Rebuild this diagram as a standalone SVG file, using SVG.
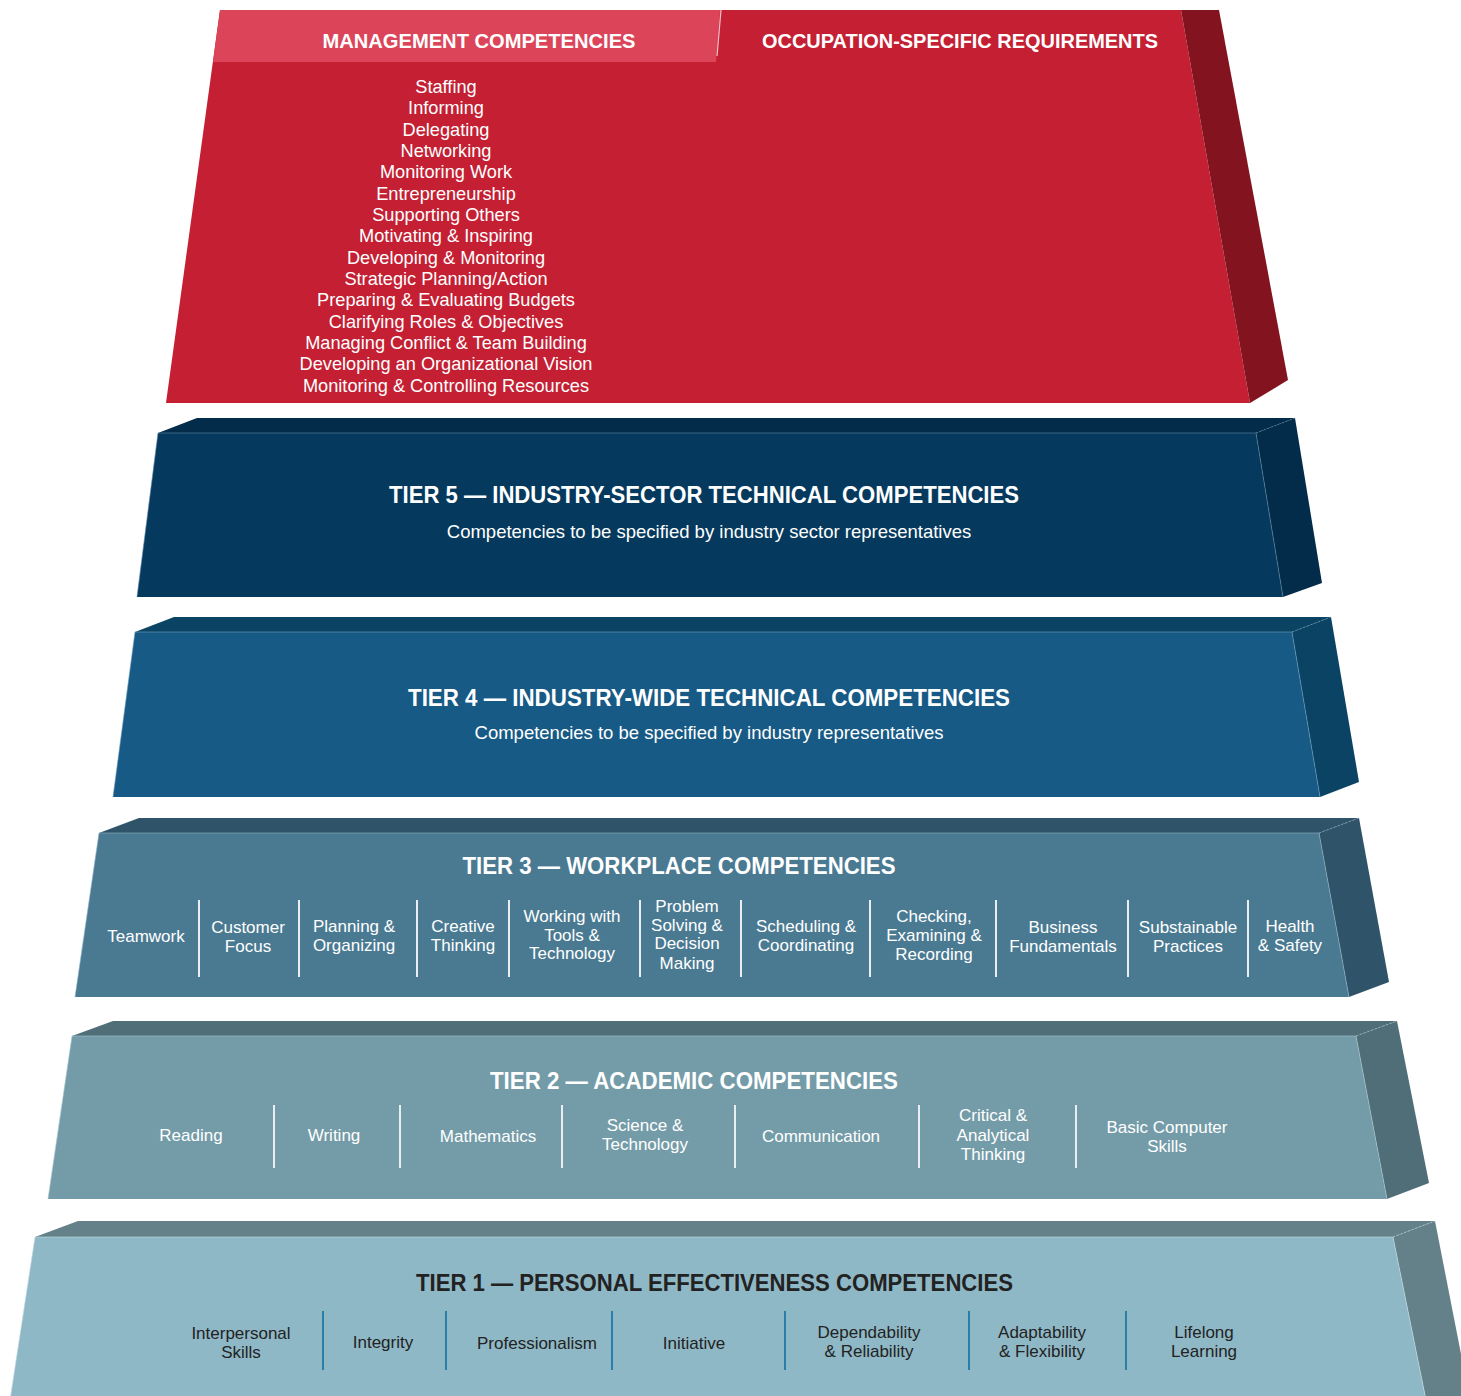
<svg xmlns="http://www.w3.org/2000/svg" width="1461" height="1396" viewBox="0 0 1461 1396">
<style>
.t{font-family:"Liberation Sans",Arial,sans-serif;font-weight:bold;font-size:24px;fill:#fff;text-anchor:middle}
.h{font-family:"Liberation Sans",Arial,sans-serif;font-weight:bold;font-size:21px;fill:#fff;text-anchor:middle}
.s{font-family:"Liberation Sans",Arial,sans-serif;font-size:18.5px;fill:#fff;text-anchor:middle}
.i{font-family:"Liberation Sans",Arial,sans-serif;font-size:17px;fill:#fff;text-anchor:middle}
.m{font-family:"Liberation Sans",Arial,sans-serif;font-size:18.2px;fill:#fff;text-anchor:middle}
.d{fill:#222}
.sep{stroke:#e8eef2;stroke-width:2}
.sep1{stroke:#2a7fa8;stroke-width:2}
.edge{fill:none;stroke-width:1;stroke-opacity:0.6}
</style>
<rect width="1461" height="1396" fill="#fff"/>

<g id="top-block">
<polygon points="220,10 1181,10 1250,403 166,403" fill="#c41f33"/>
<polygon points="1181,10 1219,10 1288,380 1250,403" fill="#83141f"/>
<polygon points="220,10 720,10 716,62 213,62" fill="#dc4459"/>
<line x1="721" y1="10" x2="717" y2="56" stroke="#f3c3ca" stroke-width="1.2"/>
<text class="h" x="479" y="48" textLength="313" lengthAdjust="spacingAndGlyphs">MANAGEMENT COMPETENCIES</text>
<text class="h" x="960" y="48" textLength="396" lengthAdjust="spacingAndGlyphs">OCCUPATION-SPECIFIC REQUIREMENTS</text>
<text class="m" x="446" y="92.5">Staffing</text>
<text class="m" x="446" y="114">Informing</text>
<text class="m" x="446" y="135.5">Delegating</text>
<text class="m" x="446" y="157">Networking</text>
<text class="m" x="446" y="178">Monitoring Work</text>
<text class="m" x="446" y="199.5">Entrepreneurship</text>
<text class="m" x="446" y="221">Supporting Others</text>
<text class="m" x="446" y="242">Motivating &amp; Inspiring</text>
<text class="m" x="446" y="263.5">Developing &amp; Monitoring</text>
<text class="m" x="446" y="285">Strategic Planning/Action</text>
<text class="m" x="446" y="306">Preparing &amp; Evaluating Budgets</text>
<text class="m" x="446" y="327.5">Clarifying Roles &amp; Objectives</text>
<text class="m" x="446" y="349">Managing Conflict &amp; Team Building</text>
<text class="m" x="446" y="370">Developing an Organizational Vision</text>
<text class="m" x="446" y="391.5">Monitoring &amp; Controlling Resources</text>
</g>

<g id="tier5">
<polygon points="158,433 197,418 1295,418 1256,433" fill="#032b4a"/>
<polygon points="1256,433 1295,418 1322,583 1283,597" fill="#032b4a"/>
<polygon points="158,433 1256,433 1283,597 137,597" fill="#053a5e"/>
<polyline class="edge" points="137,597 158,433 1256,433 1283,597" stroke="#5d86a3"/>
<line class="edge" x1="1256" y1="433" x2="1295" y2="418" stroke="#5d86a3" stroke-dasharray="2,2"/>
<text class="t" x="704" y="503" textLength="630" lengthAdjust="spacingAndGlyphs">TIER 5 — INDUSTRY-SECTOR TECHNICAL COMPETENCIES</text>
<text class="s" x="709" y="537.5">Competencies to be specified by industry sector representatives</text>
</g>

<g id="tier4">
<polygon points="135,632 174,617 1331,617 1292,632" fill="#0b4364"/>
<polygon points="1292,632 1331,617 1359,782 1320,797" fill="#0b4364"/>
<polygon points="135,632 1292,632 1320,797 113,797" fill="#175a85"/>
<polyline class="edge" points="113,797 135,632 1292,632 1320,797" stroke="#6e9cbb"/>
<line class="edge" x1="1292" y1="632" x2="1331" y2="617" stroke="#6e9cbb" stroke-dasharray="2,2"/>
<text class="t" x="709" y="706" textLength="602" lengthAdjust="spacingAndGlyphs">TIER 4 — INDUSTRY-WIDE TECHNICAL COMPETENCIES</text>
<text class="s" x="709" y="738.5">Competencies to be specified by industry representatives</text>
</g>

<g id="tier3">
<polygon points="99,833 139,818 1359,818 1319,833" fill="#2f5469"/>
<polygon points="1319,833 1359,818 1389,982 1349,997" fill="#2f5469"/>
<polygon points="99,833 1319,833 1349,997 75,997" fill="#4a7a92"/>
<polyline class="edge" points="75,997 99,833 1319,833 1349,997" stroke="#8fb2c4"/>
<line class="edge" x1="1319" y1="833" x2="1359" y2="818" stroke="#8fb2c4" stroke-dasharray="2,2"/>
<text class="t" x="679" y="874" textLength="433" lengthAdjust="spacingAndGlyphs">TIER 3 — WORKPLACE COMPETENCIES</text>
<g>
<line class="sep" x1="199" y1="900" x2="199" y2="977"/>
<line class="sep" x1="299" y1="900" x2="299" y2="977"/>
<line class="sep" x1="417" y1="900" x2="417" y2="977"/>
<line class="sep" x1="509" y1="900" x2="509" y2="977"/>
<line class="sep" x1="640" y1="900" x2="640" y2="977"/>
<line class="sep" x1="741" y1="900" x2="741" y2="977"/>
<line class="sep" x1="870" y1="900" x2="870" y2="977"/>
<line class="sep" x1="996" y1="900" x2="996" y2="977"/>
<line class="sep" x1="1128" y1="900" x2="1128" y2="977"/>
<line class="sep" x1="1248" y1="900" x2="1248" y2="977"/>
</g>
<text class="i" x="146" y="942">Teamwork</text>
<text class="i" x="248" y="933">Customer</text>
<text class="i" x="248" y="952">Focus</text>
<text class="i" x="354" y="932">Planning &amp;</text>
<text class="i" x="354" y="951">Organizing</text>
<text class="i" x="463" y="932">Creative</text>
<text class="i" x="463" y="951">Thinking</text>
<text class="i" x="572" y="922">Working with</text>
<text class="i" x="572" y="941">Tools &amp;</text>
<text class="i" x="572" y="959">Technology</text>
<text class="i" x="687" y="912">Problem</text>
<text class="i" x="687" y="931">Solving &amp;</text>
<text class="i" x="687" y="949">Decision</text>
<text class="i" x="687" y="969">Making</text>
<text class="i" x="806" y="932">Scheduling &amp;</text>
<text class="i" x="806" y="951">Coordinating</text>
<text class="i" x="934" y="922">Checking,</text>
<text class="i" x="934" y="941">Examining &amp;</text>
<text class="i" x="934" y="960">Recording</text>
<text class="i" x="1063" y="933">Business</text>
<text class="i" x="1063" y="952">Fundamentals</text>
<text class="i" x="1188" y="933">Substainable</text>
<text class="i" x="1188" y="952">Practices</text>
<text class="i" x="1290" y="932">Health</text>
<text class="i" x="1290" y="951">&amp; Safety</text>
</g>

<g id="tier2">
<polygon points="72,1036 113,1021 1397,1021 1356,1036" fill="#4f6e78"/>
<polygon points="1356,1036 1397,1021 1429,1183 1387,1199" fill="#4f6e78"/>
<polygon points="72,1036 1356,1036 1387,1199 48,1199" fill="#749ca8"/>
<polyline class="edge" points="48,1199 72,1036 1356,1036 1387,1199" stroke="#a9c6cf"/>
<line class="edge" x1="1356" y1="1036" x2="1397" y2="1021" stroke="#a9c6cf" stroke-dasharray="2,2"/>
<text class="t" x="694" y="1089" textLength="408" lengthAdjust="spacingAndGlyphs">TIER 2 — ACADEMIC COMPETENCIES</text>
<g>
<line class="sep" x1="274" y1="1105" x2="274" y2="1168"/>
<line class="sep" x1="400" y1="1105" x2="400" y2="1168"/>
<line class="sep" x1="562" y1="1105" x2="562" y2="1168"/>
<line class="sep" x1="735" y1="1105" x2="735" y2="1168"/>
<line class="sep" x1="919" y1="1105" x2="919" y2="1168"/>
<line class="sep" x1="1076" y1="1105" x2="1076" y2="1168"/>
</g>
<text class="i" x="191" y="1141">Reading</text>
<text class="i" x="334" y="1141">Writing</text>
<text class="i" x="488" y="1142">Mathematics</text>
<text class="i" x="645" y="1131">Science &amp;</text>
<text class="i" x="645" y="1150">Technology</text>
<text class="i" x="821" y="1142">Communication</text>
<text class="i" x="993" y="1121">Critical &amp;</text>
<text class="i" x="993" y="1141">Analytical</text>
<text class="i" x="993" y="1160">Thinking</text>
<text class="i" x="1167" y="1133">Basic Computer</text>
<text class="i" x="1167" y="1152">Skills</text>
</g>

<g id="tier1">
<polygon points="35,1237 78,1221 1435,1221 1393,1237" fill="#648088"/>
<polygon points="1393,1237 1435,1221 1470,1400 1426,1400" fill="#648088"/>
<polygon points="35,1237 1393,1237 1426,1400 10,1400" fill="#8fb8c6"/>
<polyline class="edge" points="10,1400 35,1237 1393,1237 1426,1400" stroke="#c4dce4"/>
<line class="edge" x1="1393" y1="1237" x2="1435" y2="1221" stroke="#c4dce4" stroke-dasharray="2,2"/>
<text class="t d" x="714.5" y="1291" textLength="597" lengthAdjust="spacingAndGlyphs">TIER 1 — PERSONAL EFFECTIVENESS COMPETENCIES</text>
<g>
<line class="sep1" x1="323" y1="1311" x2="323" y2="1370"/>
<line class="sep1" x1="446" y1="1311" x2="446" y2="1370"/>
<line class="sep1" x1="612" y1="1311" x2="612" y2="1370"/>
<line class="sep1" x1="785" y1="1311" x2="785" y2="1370"/>
<line class="sep1" x1="969" y1="1311" x2="969" y2="1370"/>
<line class="sep1" x1="1126" y1="1311" x2="1126" y2="1370"/>
</g>
<text class="i d" x="241" y="1339">Interpersonal</text>
<text class="i d" x="241" y="1358">Skills</text>
<text class="i d" x="383" y="1348">Integrity</text>
<text class="i d" x="537" y="1349">Professionalism</text>
<text class="i d" x="694" y="1349">Initiative</text>
<text class="i d" x="869" y="1338">Dependability</text>
<text class="i d" x="869" y="1357">&amp; Reliability</text>
<text class="i d" x="1042" y="1338">Adaptability</text>
<text class="i d" x="1042" y="1357">&amp; Flexibility</text>
<text class="i d" x="1204" y="1338">Lifelong</text>
<text class="i d" x="1204" y="1357">Learning</text>
</g>
</svg>
